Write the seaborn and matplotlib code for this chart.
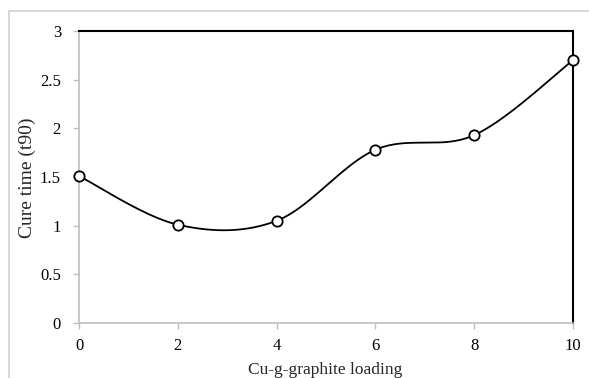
import numpy as np
import pandas as pd
import seaborn as sns
import matplotlib
matplotlib.use("Agg")
import matplotlib.pyplot as plt
from matplotlib.patches import Rectangle

loading = [0, 2, 4, 6, 8, 10]
cure_time = [1.51, 1.01, 1.05, 1.78, 1.93, 2.70]
x_ticks = [0, 2, 4, 6, 8, 10]
y_ticks = [0, 0.5, 1, 1.5, 2, 2.5, 3]
y_tick_labels = ["0", "0.5", "1", "1.5", "2", "2.5", "3"]

sns.set_style("white")
plt.rcParams["font.family"] = ["Liberation Serif", "DejaVu Serif"]

W, H = 589, 378
fig = plt.figure(figsize=(W / 100, H / 100), dpi=100)
# outer chart-area border
fig.patches.append(Rectangle((9 / W, -0.1), 1.2, 1 - 11 / H + 0.1, transform=fig.transFigure,
                             fill=False, edgecolor="#d9d9d9", linewidth=1.5))
ax = fig.add_axes([79 / W, 1 - 323 / H, (573 - 79) / W, (323 - 31) / H])


def excel_smooth(xs, ys, n=40):
    xs = np.asarray(xs, float)
    ys = np.asarray(ys, float)
    P = np.column_stack([xs, ys])
    out = []
    for i in range(len(P) - 1):
        p0 = P[i - 1] if i > 0 else P[i]
        p1 = P[i]
        p2 = P[i + 1]
        p3 = P[i + 2] if i + 2 < len(P) else P[i + 1]
        c1 = p1 + (p2 - p0) / 6
        c2 = p2 - (p3 - p1) / 6
        t = np.linspace(0, 1, n)[:, None]
        seg = ((1 - t) ** 3) * p1 + 3 * ((1 - t) ** 2) * t * c1 + 3 * (1 - t) * t ** 2 * c2 + t ** 3 * p2
        out.append(seg if i == 0 else seg[1:])
    return np.vstack(out)


curve = excel_smooth(loading, cure_time)
curve_df = pd.DataFrame({"x": curve[:, 0], "y": curve[:, 1]})
pts_df = pd.DataFrame({"x": loading, "y": cure_time})

sns.lineplot(data=curve_df, x="x", y="y", ax=ax, color="black", linewidth=1.3,
             sort=False, estimator=None, zorder=3)
sns.scatterplot(data=pts_df, x="x", y="y", ax=ax, s=55, facecolor="white",
                edgecolor="black", linewidth=1.3, zorder=4, clip_on=False)

ax.set_xlim(0, 10)
ax.set_ylim(0, 3)
ax.set_xticks(x_ticks)
ax.set_yticks(y_ticks)
ax.set_yticklabels(y_tick_labels)

for s in ["left", "bottom"]:
    ax.spines[s].set_color("#bfbfbf")
    ax.spines[s].set_linewidth(1.2)
for s in ["top", "right"]:
    ax.spines[s].set_color("black")
    ax.spines[s].set_linewidth(1.5)
    ax.spines[s].set_visible(True)

ax.tick_params(axis="both", which="major", direction="out", length=4, width=1,
               color="#bfbfbf", labelsize=12, labelcolor="black",
               left=True, bottom=True)
ax.tick_params(axis="y", pad=9)
ax.tick_params(axis="x", pad=7)

ax.set_xlabel("Cu-g-graphite loading", fontsize=12.5)
ax.set_ylabel("Cure time (t90)", fontsize=14)
ax.xaxis.set_label_coords(0.498, -0.132)
ax.yaxis.set_label_coords(-0.088, 0.498)

fig.savefig("out.png", dpi=100)
